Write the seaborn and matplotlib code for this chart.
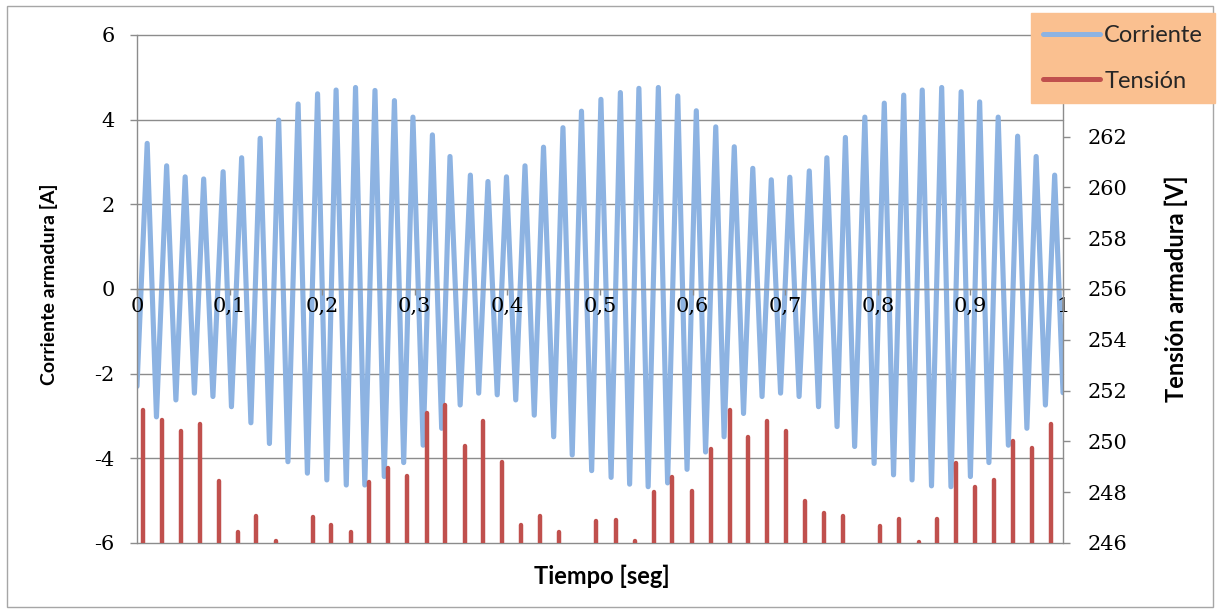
import numpy as np
import pandas as pd
import matplotlib
matplotlib.use("Agg")
import matplotlib.pyplot as plt
from matplotlib.lines import Line2D
from matplotlib.patches import Rectangle
import seaborn as sns

# ---------------- data ----------------
peak_t = [0.011, 0.032, 0.052, 0.072, 0.093, 0.113, 0.133, 0.153, 0.174, 0.195, 0.215, 0.236, 0.257, 0.278, 0.298, 0.319, 0.338,
          0.360, 0.379, 0.399, 0.419, 0.439, 0.460, 0.480, 0.501, 0.522, 0.542, 0.563, 0.584, 0.604, 0.625, 0.645, 0.665,
          0.685, 0.705, 0.726, 0.745, 0.765, 0.786, 0.807, 0.828, 0.848, 0.869, 0.890, 0.910, 0.930, 0.951, 0.971, 0.991]
peak_a = [3.44, 2.91, 2.65, 2.60, 2.77, 3.10, 3.56, 3.99, 4.37, 4.61, 4.70, 4.76, 4.69, 4.45, 4.06, 3.64, 3.13,
          2.69, 2.54, 2.65, 2.91, 3.35, 3.81, 4.20, 4.48, 4.64, 4.74, 4.76, 4.56, 4.21, 3.83, 3.36, 2.85,
          2.58, 2.64, 2.79, 3.10, 3.58, 4.06, 4.39, 4.58, 4.70, 4.76, 4.66, 4.42, 4.06, 3.61, 3.13, 2.69]
trough_t = [0.021, 0.042, 0.062, 0.082, 0.102, 0.123, 0.143, 0.163, 0.184, 0.205, 0.226, 0.246, 0.267, 0.288, 0.309, 0.329,
            0.349, 0.369, 0.389, 0.409, 0.429, 0.450, 0.470, 0.491, 0.512, 0.532, 0.552, 0.573, 0.594, 0.614, 0.634, 0.655,
            0.675, 0.695, 0.715, 0.736, 0.756, 0.775, 0.796, 0.817, 0.837, 0.858, 0.879, 0.900, 0.920, 0.941, 0.961, 0.981]
trough_a = [-3.02, -2.62, -2.46, -2.54, -2.78, -3.16, -3.65, -4.08, -4.35, -4.51, -4.63, -4.63, -4.43, -4.10, -3.69, -3.29,
            -2.74, -2.46, -2.50, -2.62, -2.98, -3.49, -3.92, -4.29, -4.45, -4.61, -4.67, -4.58, -4.26, -3.85, -3.49, -2.94,
            -2.54, -2.46, -2.54, -2.78, -3.25, -3.72, -4.12, -4.39, -4.51, -4.65, -4.67, -4.43, -4.10, -3.69, -3.29, -2.74]
edge_t = [0.0, 1.0]
edge_a = [-2.30, -2.45]

spike_t = [0.007, 0.027, 0.048, 0.068, 0.089, 0.109, 0.129, 0.150, 0.190, 0.210, 0.231, 0.251, 0.271, 0.292, 0.313, 0.333,
           0.354, 0.374, 0.394, 0.415, 0.435, 0.456, 0.496, 0.517, 0.538, 0.558, 0.578, 0.599, 0.620, 0.640, 0.660,
           0.680, 0.701, 0.721, 0.742, 0.762, 0.802, 0.823, 0.844, 0.864, 0.884, 0.905, 0.925, 0.946, 0.966, 0.987]
spike_v = [251.24, 250.84, 250.39, 250.68, 248.43, 246.42, 247.07, 246.09, 247.01, 246.72, 246.42, 248.39, 248.95, 248.65, 251.12, 251.43,
           249.83, 250.81, 249.17, 246.72, 247.07, 246.42, 246.85, 246.90, 246.06, 247.99, 248.61, 248.03, 249.70, 251.24, 250.16,
           250.79, 250.39, 247.64, 247.20, 247.05, 246.65, 246.94, 246.05, 246.94, 249.13, 248.19, 248.48, 250.03, 249.74, 250.69]
v_base = 246

x_ticks = [0.0, 0.1, 0.2, 0.3, 0.4, 0.5, 0.6, 0.7, 0.8, 0.9, 1.0]
x_tick_labels = ["0", "0,1", "0,2", "0,3", "0,4", "0,5", "0,6", "0,7", "0,8", "0,9", "1"]
left_ticks = [-6, -4, -2, 0, 2, 4, 6]
left_tick_labels = ["-6", "-4", "-2", "0", "2", "4", "6"]
right_ticks = [246, 248, 250, 252, 254, 256, 258, 260, 262, 264, 266]
# 264 and 266 are hidden behind the legend in the reference
right_tick_labels = ["246", "248", "250", "252", "254", "256", "258", "260", "262", "", ""]

series_names = ["Corriente", "Tensión"]
xlabel = "Tiempo [seg]"
ylabel_left = "Corriente armadura [A]"
ylabel_right = "Tensión armadura [V]"

BLUE = "#8DB3E2"
RED = "#C0504D"
GRID = "#8C8C8C"

# ---------------- figure ----------------
sns.set_theme(style="white")
plt.rcParams['font.family'] = ['DejaVu Serif']

W, H = 1218, 610
fig = plt.figure(figsize=(W / 100, H / 100), dpi=100)
L, R, T, B = 137, 1063, 35, 543
ax = fig.add_axes([L / W, 1 - B / H, (R - L) / W, (B - T) / H])
ax2 = ax.twinx()
ax.set_axisbelow(False)

df = pd.DataFrame({"t": list(edge_t) + list(peak_t) + list(trough_t),
                   "a": list(edge_a) + list(peak_a) + list(trough_a)}).sort_values("t")
sns.lineplot(data=df, x="t", y="a", ax=ax, color=BLUE, linewidth=3.7, sort=True,
             estimator=None, legend=False, zorder=2)
for ln in ax.get_lines():
    ln.set_solid_joinstyle("round")
    ln.set_solid_capstyle("round")

ax2.vlines(spike_t, v_base, spike_v, colors=RED, linewidth=3.2, capstyle="round", zorder=3)

# axes ranges / ticks
ax.set_xlim(0, 1)
ax.set_ylim(-6, 6)
ax2.set_ylim(246, 266)
ax.set_xticks(x_ticks, labels=x_tick_labels)
ax.set_yticks(left_ticks, labels=left_tick_labels)
ax2.set_yticks(right_ticks, labels=right_tick_labels)

# horizontal gridlines drawn beneath the current line
ax.grid(False)
ax2.grid(False)
for yv in left_ticks:
    ax.axhline(yv, color=GRID, linewidth=1.0, clip_on=False, zorder=1)

for s in ["top", "right"]:
    ax.spines[s].set_visible(False)
ax.spines["left"].set_color(GRID)
ax.spines["left"].set_linewidth(1.0)
ax.spines["bottom"].set_position(("data", 0))
ax.spines["bottom"].set_color(GRID)
ax.spines["bottom"].set_linewidth(1.0)
for s in ["top", "left", "bottom"]:
    ax2.spines[s].set_visible(False)
ax2.spines["right"].set_color(GRID)
ax2.spines["right"].set_linewidth(1.0)

ax.tick_params(axis="y", left=True, direction="out", length=5, width=1, color=GRID,
               pad=11, labelsize=15, labelcolor="black")
ax.tick_params(axis="x", bottom=True, direction="out", length=4, width=1, color=GRID,
               pad=2, labelsize=15, labelcolor="black")
ax2.tick_params(axis="y", right=True, direction="out", length=5, width=1, color=GRID,
                pad=13, labelsize=15, labelcolor="black")

lab_font = ["Lato", "DejaVu Sans"]
ax.set_ylabel(ylabel_left, family=lab_font, fontweight="bold", fontsize=14, color="black")
ax.yaxis.set_label_coords(-0.085, 0.51)
ax2.set_ylabel(ylabel_right, family=lab_font, fontweight="bold", fontsize=17, color="black",
               rotation=90)
ax2.yaxis.set_label_coords(1.110, 0.50)
ax.set_xlabel(xlabel, family=lab_font, fontweight="bold", fontsize=17, color="black")
ax.xaxis.set_label_coords(0.502, -0.043)

# chart-area border
fig.patches.append(Rectangle((7 / W, 3 / H), 1206 / W, 601 / H, transform=fig.transFigure,
                             fill=False, edgecolor="#A6A6A6", linewidth=1.0))

handles = [Line2D([], [], color=BLUE, linewidth=3.6), Line2D([], [], color=RED, linewidth=3.6)]
leg = fig.legend(handles, series_names, loc="upper right", bbox_to_anchor=(1215 / W, 1 - 13 / H),
                 borderaxespad=0, frameon=True, fancybox=False, framealpha=1,
                 facecolor="#FAC090", edgecolor="#FAC090",
                 prop={"family": lab_font, "size": 17}, handlelength=2.4, handletextpad=0.2,
                 borderpad=0.5, labelspacing=1.05)
leg.set_zorder(10)

fig.savefig("out.png", dpi=100)
